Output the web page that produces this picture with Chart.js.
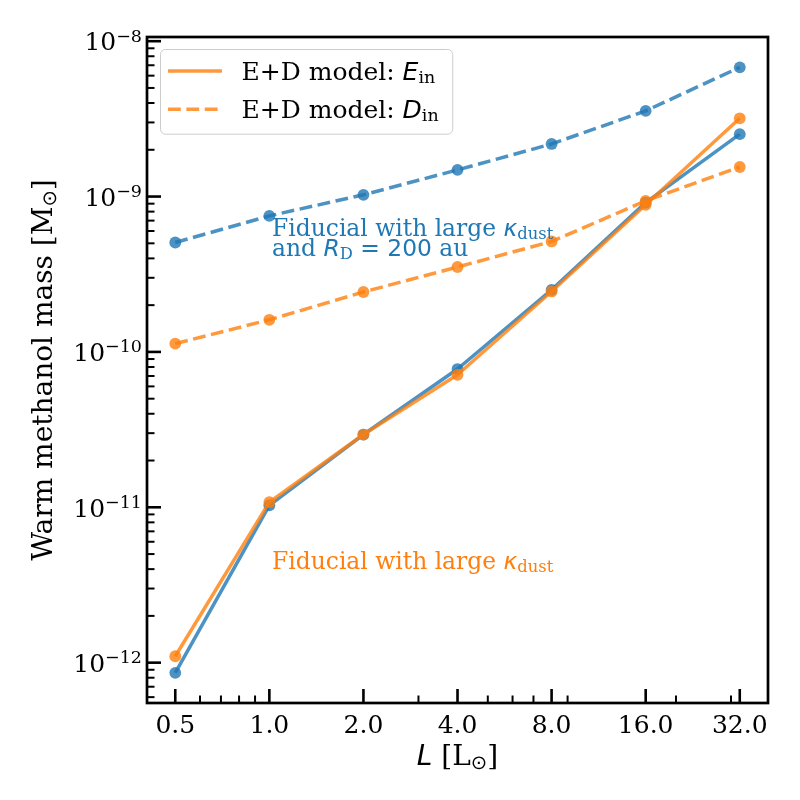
<!DOCTYPE html>
<html><head><meta charset="utf-8">
<script src="https://cdn.jsdelivr.net/npm/chart.js@4.4.1/dist/chart.umd.min.js"></script>
<style>html,body{margin:0;padding:0;background:#fff}#wrap{width:800px;height:800px}</style>
</head><body><div id="wrap"><canvas id="c" width="800" height="800"></canvas></div>
<script>
// ---- data ----
const luminosity = [0.5, 1, 2, 4, 8, 16, 32];
const xTickLabels = ['0.5', '1.0', '2.0', '4.0', '8.0', '16.0', '32.0'];
const xMinorTicks = [0.6, 0.7, 0.8, 0.9, 3, 5, 6, 7, 9, 20, 30];
const yMajorTicks = [1e-12, 1e-11, 1e-10, 1e-9, 1e-8];
const yTickBase = '10';
const yTickExponents = ['−12', '−11', '−10', '−9', '−8'];
const yMinorSubs = [2, 3, 4, 5, 6, 7, 8, 9];
// orange: Fiducial with large kappa_dust
const largeKappaEin = [1.10e-12, 1.08e-11, 2.94e-11, 7.13e-11, 2.45e-10, 8.85e-10, 3.19e-9];
const largeKappaDin = [1.13e-10, 1.61e-10, 2.43e-10, 3.52e-10, 5.14e-10, 9.38e-10, 1.55e-9];
// blue: Fiducial with large kappa_dust and R_D = 200 au
const largeKappaRdEin = [8.6e-13, 1.03e-11, 2.94e-11, 7.76e-11, 2.51e-10, 9.15e-10, 2.52e-9];
const largeKappaRdDin = [5.06e-10, 7.51e-10, 1.026e-9, 1.485e-9, 2.18e-9, 3.56e-9, 6.79e-9];
const xLimits = [0.406, 39.4];
const yLimits = [5.5e-13, 1.064e-8];
const annotationX = 1.02;
const annotationBlueY = 4.16e-10;
const annotationOrangeY = 4.0e-12;

// ---- styles ----
const BLUE = '#1f77b4', ORANGE = '#ff7f0e';
const BLUE_A = 'rgba(31,119,180,0.8)', ORANGE_A = 'rgba(255,127,14,0.8)';
const SERIF = '"DejaVu Serif", serif';
const SANS = '"DejaVu Sans", sans-serif';
const FS = 25, AFS = 23.4, LFS = 28;
const DASH = [12.8, 5.6];

function rm(t, s, dy) { return { t, font: `${s}px ${SERIF}`, dy: dy || 0 }; }
function it(t, s) { return { t, font: `italic ${s}px ${SANS}`, dy: 0 }; }
function sn(t, s) { return { t, font: `${s}px ${SANS}`, dy: 0 }; }
function sub(t, s, fam) { return { t, font: `${(s * 0.7).toFixed(2)}px ${fam || SERIF}`, dy: s * 0.13 }; }
function sup(t, s) { return { t, font: `${(s * 0.7).toFixed(2)}px ${SERIF}`, dy: -s * 0.35 }; }

function richWidth(ctx, segs) {
  let w = 0;
  segs.forEach(sg => { ctx.font = sg.font; sg.w = ctx.measureText(sg.t).width; w += sg.w; });
  return w;
}
function drawRich(ctx, x, y, segs, align) {
  const w = richWidth(ctx, segs);
  let cx = align === 'center' ? x - w / 2 : align === 'right' ? x - w : x;
  ctx.textBaseline = 'alphabetic';
  ctx.textAlign = 'left';
  segs.forEach(sg => { ctx.font = sg.font; ctx.fillText(sg.t, cx, y + sg.dy); cx += sg.w; });
  return w;
}

function pts(arr) { return luminosity.map((v, i) => ({ x: v, y: arr[i] })); }

function ds(label, arr, color, dashed, order) {
  return {
    label, data: pts(arr), borderColor: color, backgroundColor: color,
    borderWidth: 3.5, borderDash: dashed ? DASH : [], borderCapStyle: 'butt',
    borderJoinStyle: 'round', pointRadius: 5.9, pointHoverRadius: 5.9, pointBorderWidth: 0,
    pointBackgroundColor: color, tension: 0, fill: false, order
  };
}

const decor = {
  id: 'decor',
  afterDatasetsDraw(chart) {
    const { ctx, chartArea: a, scales: { x, y } } = chart;
    ctx.save();
    // annotations
    const ax = x.getPixelForValue(annotationX);
    const by = y.getPixelForValue(annotationBlueY);
    ctx.fillStyle = BLUE;
    drawRich(ctx, ax, by - 19.5, [rm('Fiducial with large ', AFS), it('κ', AFS), sub('dust', AFS)]);
    drawRich(ctx, ax, by, [rm('and ', AFS), it('R', AFS), sub('D', AFS), sn(' = 200', AFS), rm(' au', AFS)]);
    ctx.fillStyle = ORANGE;
    drawRich(ctx, ax, y.getPixelForValue(annotationOrangeY), [rm('Fiducial with large ', AFS), it('κ', AFS), sub('dust', AFS)]);

    // ticks (inward)
    ctx.strokeStyle = '#000';
    const tick = (x1, y1, x2, y2) => { ctx.beginPath(); ctx.moveTo(x1, y1); ctx.lineTo(x2, y2); ctx.stroke(); };
    ctx.lineWidth = 2.6;
    luminosity.forEach(v => { const p = x.getPixelForValue(v); tick(p, a.bottom, p, a.bottom - 14); });
    yMajorTicks.forEach(v => { const p = y.getPixelForValue(v); tick(a.left, p, a.left + 14, p); });
    ctx.lineWidth = 2;
    xMinorTicks.forEach(v => { const p = x.getPixelForValue(v); tick(p, a.bottom, p, a.bottom - 7.5); });
    for (let e = -13; e <= -8; e++) {
      yMinorSubs.forEach(k => {
        const v = k * Math.pow(10, e);
        if (v > yLimits[0] && v < yLimits[1]) { const p = y.getPixelForValue(v); tick(a.left, p, a.left + 7.5, p); }
      });
    }
    // frame
    ctx.lineWidth = 2.7;
    ctx.strokeRect(a.left, a.top, a.right - a.left, a.bottom - a.top);

    // y tick labels (10 with superscript exponent)
    ctx.fillStyle = '#000';
    yMajorTicks.forEach((v, i) => {
      const p = y.getPixelForValue(v);
      drawRich(ctx, a.left - 5, p + 9.3, [rm(yTickBase, FS), sup(yTickExponents[i], FS)], 'right');
    });
    ctx.restore();
  },
  afterDraw(chart) {
    const { ctx, chartArea: a } = chart;
    ctx.save();
    ctx.fillStyle = '#000';
    // axis titles
    drawRich(ctx, (a.left + a.right) / 2, 765, [it('L', LFS), rm(' [L', LFS), sub('⊙', LFS, SANS), rm(']', LFS)], 'center');
    ctx.save();
    ctx.translate(52, (a.top + a.bottom) / 2);
    ctx.rotate(-Math.PI / 2);
    drawRich(ctx, 0, 0, [rm('Warm methanol mass [M', LFS), sub('⊙', LFS, SANS), rm(']', LFS)], 'center');
    ctx.restore();

    // legend
    const rows = [
      { segs: [rm('E+D model: ', FS), it('E', FS), sub('in', FS)], dash: [] },
      { segs: [rm('E+D model: ', FS), it('D', FS), sub('in', FS)], dash: DASH }
    ];
    const tw = Math.max(...rows.map(r => richWidth(ctx, r.segs)));
    const bx = a.left + 13.5, byy = a.top + 12.5, bw = 81 + tw + 14, bh = 84.7;
    ctx.beginPath();
    ctx.roundRect(bx, byy, bw, bh, 5);
    ctx.fillStyle = 'rgba(255,255,255,0.8)';
    ctx.fill();
    ctx.strokeStyle = 'rgba(204,204,204,1)';
    ctx.lineWidth = 1;
    ctx.stroke();
    rows.forEach((r, i) => {
      const ly = byy + 21.4 + i * 38.3;
      ctx.strokeStyle = ORANGE_A;
      ctx.lineWidth = 3.5;
      ctx.setLineDash(r.dash);
      ctx.lineCap = 'butt';
      ctx.beginPath(); ctx.moveTo(bx + 7.5, ly); ctx.lineTo(bx + 61.5, ly); ctx.stroke();
      ctx.setLineDash([]);
      ctx.fillStyle = '#000';
      drawRich(ctx, bx + 81, ly + 8.6, r.segs);
    });
    ctx.restore();
  }
};

new Chart(document.getElementById('c'), {
  type: 'line',
  data: {
    datasets: [
      ds('Fiducial with large κdust, Ein', largeKappaEin, ORANGE_A, false, 0),
      ds('Fiducial with large κdust, Din', largeKappaDin, ORANGE_A, true, 1),
      ds('Fiducial with large κdust and RD = 200 au, Ein', largeKappaRdEin, BLUE_A, false, 2),
      ds('Fiducial with large κdust and RD = 200 au, Din', largeKappaRdDin, BLUE_A, true, 3)
    ]
  },
  options: {
    responsive: false,
    animation: false,
    devicePixelRatio: 1,
    layout: { padding: { left: 0, right: 32, top: 37, bottom: 0 } },
    plugins: { legend: { display: false }, tooltip: { enabled: false } },
    events: [],
    scales: {
      x: {
        type: 'logarithmic', min: xLimits[0], max: xLimits[1],
        afterBuildTicks: s => { s.ticks = luminosity.map(v => ({ value: v })); },
        afterFit: s => { s.height = 97; },
        grid: { display: false, drawTicks: false },
        border: { display: false },
        ticks: {
          autoSkip: false, maxRotation: 0, padding: 8, color: '#000',
          font: { family: 'DejaVu Serif', size: FS },
          callback: (v, i) => xTickLabels[i]
        }
      },
      y: {
        type: 'logarithmic', min: yLimits[0], max: yLimits[1],
        afterBuildTicks: s => { s.ticks = yMajorTicks.map(v => ({ value: v })); },
        afterFit: s => { s.width = 147; },
        grid: { display: false, drawTicks: false },
        border: { display: false },
        ticks: { display: false }
      }
    }
  },
  plugins: [decor]
});
</script>
</body></html>
